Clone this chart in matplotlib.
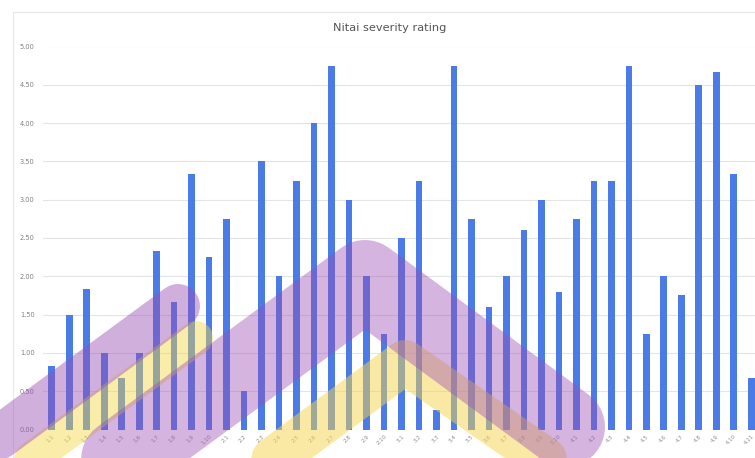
import numpy as np
import matplotlib
matplotlib.use("Agg")
import matplotlib.pyplot as plt
from matplotlib.lines import Line2D

# per-episode severity scores
episodes = (
    ["1.%d" % i for i in range(1, 11)]
    + ["2.%d" % i for i in range(1, 11)]
    + ["3.%d" % i for i in range(1, 11)]
    + ["4.%d" % i for i in range(1, 12)]
)
severity = [
    0.83, 1.50, 1.83, 1.00, 0.67, 1.00, 2.33, 1.67, 3.33, 2.25,
    2.75, 0.50, 3.50, 2.00, 3.25, 4.00, 4.75, 3.00, 2.00, 1.25,
    2.50, 3.25, 0.25, 4.75, 2.75, 1.60, 2.00, 2.60, 3.00, 1.80,
    2.75, 3.25, 3.25, 4.75, 1.25, 2.00, 1.75, 4.50, 4.67, 3.33,
    0.67,
]
yticks = [0.0, 0.5, 1.0, 1.5, 2.0, 2.5, 3.0, 3.5, 4.0, 4.5, 5.0]

W, H = 755, 458
fig = plt.figure(figsize=(W / 100, H / 100), dpi=100)
fig.patch.set_facecolor("white")

ax = fig.add_axes([43 / W, 28.5 / H, 717 / W, 383 / H])
x = np.arange(len(severity))
ax.bar(x, severity, width=0.38, color="#4a7be6", zorder=3)
ax.set_xlim(-0.5, len(severity) - 0.5)
ax.set_ylim(0, 5)
ax.set_yticks(yticks)
ax.set_yticklabels(["%.2f" % v for v in yticks])
ax.set_xticks(x)
ax.set_xticklabels(episodes, rotation=45, ha="right", rotation_mode="anchor")
ax.grid(axis="y", color="#e4e4e4", lw=0.8, zorder=0)
ax.set_axisbelow(True)
for s in ax.spines.values():
    s.set_visible(False)
ax.tick_params(axis="y", length=0, labelsize=4.8, colors="#808080", pad=6)
ax.tick_params(axis="x", length=0, labelsize=4, colors="#909090", pad=3)

fig.text(390 / W, 1 - 28 / H, "Nitai severity rating", ha="center", va="center",
         fontsize=8.2, color="#555555")


def px(pts):
    xs = [p[0] / W for p in pts]
    ys = [1 - p[1] / H for p in pts]
    return xs, ys


# card outline
xs, ys = px([(13, H + 5), (13, 12), (W + 5, 12)])
fig.add_artist(Line2D(xs, ys, color="#e8e8e8", lw=0.8))

# translucent chevron bands laid over the chart
bands = [
    ([(-60, 526), (196, 338)], 34, "#f5d742", 0.45, 5),
    ([(-60, 481), (178, 306)], 44, "#9b4fb5", 0.45, 6),
    ([(215, 502), (405, 362), (575, 480)], 44, "#f7d54a", 0.50, 5),
    ([(-60, 592), (365, 280), (565, 427)], 80, "#9b4fb5", 0.42, 6),
]
for pts, width, color, alpha, z in bands:
    xs, ys = px(pts)
    fig.add_artist(Line2D(xs, ys, color=color, alpha=alpha, lw=width * 0.72,
                          solid_capstyle="round", solid_joinstyle="round",
                          zorder=z))

fig.savefig("out.png", dpi=100)
